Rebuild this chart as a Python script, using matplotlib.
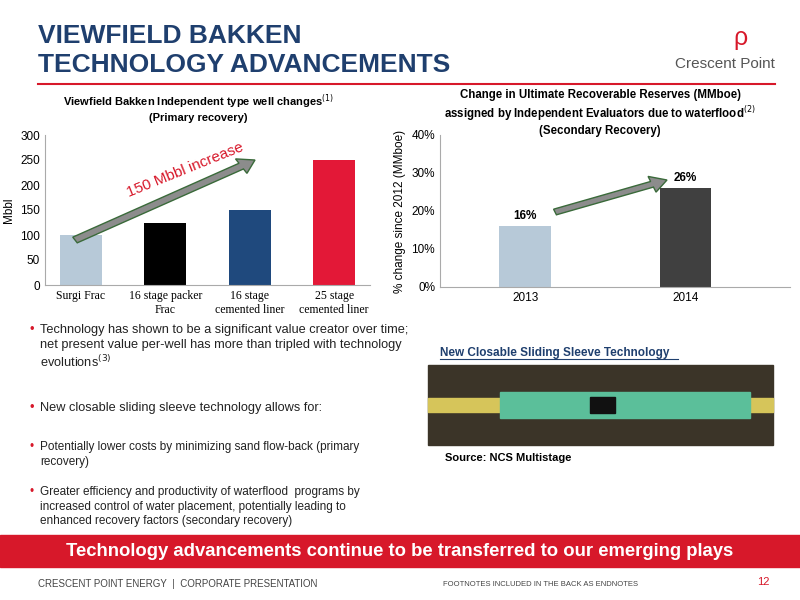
import matplotlib
matplotlib.use("Agg")
import matplotlib.pyplot as plt
from matplotlib.patches import Rectangle, FancyArrow

plt.rcParams["font.family"] = ["Liberation Sans", "DejaVu Sans"]

left_cats = ["Surgi Frac", "16 stage packer\nFrac", "16 stage\ncemented liner", "25 stage\ncemented liner"]
left_vals = [100, 125, 150, 250]
left_cols = ["#b7c9d8", "#000000", "#1f497d", "#e31837"]

right_cats = ["2013", "2014"]
right_vals = [16, 26]
right_cols = ["#b7c9d8", "#404040"]

navy = "#1f3f6e"
red = "#d7182a"

fig = plt.figure(figsize=(8, 6), dpi=100)
W, H = 800, 600


def fx(px):
    return px / W


def fy(py):
    return 1 - py / H


# header
fig.text(fx(38), fy(36), "VIEWFIELD BAKKEN", color=navy, fontsize=19, weight="bold", va="center")
fig.text(fx(38), fy(65), "TECHNOLOGY ADVANCEMENTS", color=navy, fontsize=19, weight="bold", va="center")
fig.add_artist(plt.Line2D([fx(38), fx(775)], [fy(84), fy(84)], color=red, lw=1.5))
fig.text(fx(775), fy(64), "Crescent Point", color="#555555", fontsize=11, ha="right", va="center")
fig.text(fx(740), fy(38), "\u03c1", color=red, fontsize=18, ha="center", va="center")

# left chart
ax1 = fig.add_axes([fx(45), fy(285), fx(325), 150 / H])
ax1.bar(range(4), left_vals, width=0.5, color=left_cols)
ax1.set_xticks(range(4))
ax1.set_xticklabels(left_cats, fontsize=8.5, family="Liberation Serif")
ax1.set_ylim(0, 300)
ax1.set_yticks(range(0, 301, 50))
ax1.tick_params(labelsize=8.5, length=0)
ax1.set_ylabel("Mbbl", fontsize=8.5)
for s in ["top", "right"]:
    ax1.spines[s].set_visible(False)
ax1.spines["left"].set_color("#aaaaaa")
ax1.spines["bottom"].set_color("#aaaaaa")
fig.text(fx(198), fy(108), "Viewfield Bakken Independent type well changes$^{(1)}$\n(Primary recovery)",
         ha="center", va="center", fontsize=8, weight="bold")

# right chart
ax2 = fig.add_axes([fx(440), fy(287), fx(350), 152 / H])
ax2.bar(range(2), right_vals, width=0.32, color=right_cols)
for i, v in enumerate(right_vals):
    ax2.text(i, v + 2, f"{v}%", ha="center", fontsize=8.5, weight="bold")
ax2.set_xlim(-0.53, 1.65)
ax2.set_xticks(range(2))
ax2.set_xticklabels(right_cats, fontsize=8.5)
ax2.set_ylim(0, 40)
ax2.set_yticks(range(0, 41, 10))
ax2.set_yticklabels([f"{t}%" for t in range(0, 41, 10)])
ax2.tick_params(labelsize=8.5, length=0)
ax2.set_ylabel("% change since 2012 (MMboe)", fontsize=8.5)
for s in ["top", "right"]:
    ax2.spines[s].set_visible(False)
ax2.spines["left"].set_color("#aaaaaa")
ax2.spines["bottom"].set_color("#aaaaaa")
fig.text(fx(600), fy(113), "Change in Ultimate Recoverable Reserves (MMboe)\nassigned by Independent Evaluators due to waterflood$^{(2)}$\n(Secondary Recovery)",
         ha="center", va="center", fontsize=8.3, weight="bold")

# arrows
fig.add_artist(FancyArrow(fx(75), fy(240), fx(180), fy(160) - fy(240), width=0.011,
                          head_width=0.028, head_length=0.02, length_includes_head=True,
                          fc="#8c8c8c", ec="#3a6a3a", lw=1, transform=fig.transFigure))
fig.text(fx(185), fy(170), "150 Mbbl increase", fontsize=11, color=red, rotation=22, ha="center", va="center")
fig.add_artist(FancyArrow(fx(555), fy(212), fx(112), fy(180) - fy(212), width=0.01,
                          head_width=0.028, head_length=0.02, length_includes_head=True,
                          fc="#8c8c8c", ec="#3a6a3a", lw=1, transform=fig.transFigure))

# bullets
bullets = [
    (fy(324), "Technology has shown to be a significant value creator over time;\nnet present value per-well has more than tripled with technology\nevolutions$^{(3)}$", 9.2),
    (fy(402), "New closable sliding sleeve technology allows for:", 9.2),
    (fy(441), "Potentially lower costs by minimizing sand flow-back (primary\nrecovery)", 8.5),
    (fy(486), "Greater efficiency and productivity of waterflood  programs by\nincreased control of water placement, potentially leading to\nenhanced recovery factors (secondary recovery)", 8.5),
]
for y, t, fs in bullets:
    fig.text(fx(30), y, "\u2022", color=red, fontsize=fs, va="top")
    fig.text(fx(40), y, t, fontsize=fs, va="top", color="#222222", linespacing=1.3)

# sleeve picture
fig.text(fx(440), fy(353), "New Closable Sliding Sleeve Technology", fontsize=8.5, weight="bold",
         color=navy, va="center")
fig.add_artist(plt.Line2D([fx(440), fx(678)], [fy(359), fy(359)], color=navy, lw=0.8))
fig.add_artist(Rectangle((fx(428), fy(445)), fx(345), 80 / H, color="#3b3428", transform=fig.transFigure))
fig.add_artist(Rectangle((fx(428), fy(412)), fx(345), 14 / H, color="#d6c55a", transform=fig.transFigure))
fig.add_artist(Rectangle((fx(500), fy(418)), fx(250), 26 / H, color="#5bbf9a", transform=fig.transFigure))
fig.add_artist(Rectangle((fx(590), fy(413)), fx(25), 16 / H, color="#111111", transform=fig.transFigure))
fig.text(fx(445), fy(458), "Source: NCS Multistage", fontsize=8, weight="bold", va="center")

# banner
fig.add_artist(Rectangle((0, fy(567)), 1, 32 / H, color=red, transform=fig.transFigure))
fig.text(0.5, fy(551), "Technology advancements continue to be transferred to our emerging plays",
         color="white", fontsize=13.3, weight="bold", ha="center", va="center")

# footer
fig.text(fx(38), fy(584), "CRESCENT POINT ENERGY  |  CORPORATE PRESENTATION", fontsize=7, color="#444444", va="center")
fig.text(fx(443), fy(584), "FOOTNOTES INCLUDED IN THE BACK AS ENDNOTES", fontsize=5.5, color="#444444", va="center")
fig.text(fx(770), fy(582), "12", fontsize=8, color=red, ha="right", va="center")

fig.savefig("out.png", dpi=100)
